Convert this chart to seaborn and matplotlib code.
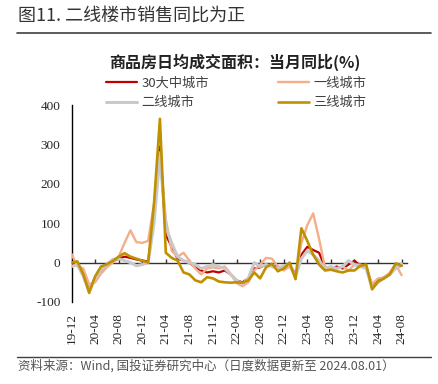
import numpy as np
import pandas as pd
import matplotlib
matplotlib.use("Agg")
import matplotlib.pyplot as plt
import seaborn as sns

months = ["19-12","20-01","20-02","20-03","20-04","20-05","20-06","20-07","20-08","20-09",
          "20-10","20-11","20-12","21-01","21-02","21-03","21-04","21-05","21-06","21-07",
          "21-08","21-09","21-10","21-11","21-12","22-01","22-02","22-03","22-04","22-05",
          "22-06","22-07","22-08","22-09","22-10","22-11","22-12","23-01","23-02","23-03",
          "23-04","23-05","23-06","23-07","23-08","23-09","23-10","23-11","23-12","24-01",
          "24-02","24-03","24-04","24-05","24-06","24-07","24-08"]

city30 = [-5, -5, -30, -68, -40, -20, -8, 3, 10, 15, 12, 8, 5, 3, 110, 295, 70, 40, 10, 5,
          0, -12, -20, -25, -22, -25, -20, -30, -45, -50, -40, -15, -12, -5, -8, -10, -15, -5, -30, 20,
          40, 32, 25, -12, -15, -10, -15, -5, 5, -8, -10, -60, -45, -38, -28, -12, -8]
tier1 = [22, -10, -15, -55, -50, -28, -12, 0, 15, 50, 82, 52, 50, 55, 150, 280, 110, 30, 15, 25,
         5, -15, -30, -15, -12, -15, -10, -28, -52, -60, -50, -20, -5, 12, 10, -10, -20, -10, -35, 50,
         95, 125, 60, -12, -15, -15, -10, -20, -5, -5, -10, -55, -40, -38, -25, -5, -32]
tier2 = [-10, -5, -35, -72, -40, -18, -5, 8, 10, 5, 0, -8, -5, 0, 100, 270, 90, 50, 15, 5,
         0, -5, -15, -10, -5, -10, -15, -30, -45, -55, -40, 0, -10, -5, -10, -15, -8, -5, -35, 10,
         30, 20, 5, -15, -10, -15, -10, 5, -5, -10, -15, -65, -50, -40, -30, -15, -3]
tier3 = [0, 3, -30, -77, -35, -10, -4, 4, 15, 24, 15, 10, 5, 0, 150, 365, 25, 12, 5, -25,
         -30, -45, -50, -37, -40, -48, -50, -51, -50, -51, -45, -25, -40, -12, -3, -22, -15, 0, -42, 87,
         55, 20, -5, -20, -18, -22, -25, -20, -20, -8, -5, -68, -48, -40, -30, -2, -8]

series_names = ["30大中城市", "一线城市", "二线城市", "三线城市"]
colors = ["#C00000", "#F4AE8A", "#C9C9C9", "#BF9000"]
widths = [1.6, 1.7, 2.2, 1.9]
tick_labels = months[::4]

idx = np.arange(len(months))
df = pd.concat([
    pd.DataFrame({"idx": idx, "value": v, "series": n})
    for n, v in zip(series_names, [city30, tier1, tier2, tier3])
], ignore_index=True)

sns.set_style("white")
plt.rcParams["font.family"] = ["Noto Sans CJK SC", "DejaVu Sans"]
plt.rcParams["axes.unicode_minus"] = False

fig = plt.figure(figsize=(4.38, 3.84), dpi=100)
ax = fig.add_axes([71.5/438, 1-302/384, 336/438, (302-105)/384])

draw_order = [1, 2, 0, 3]
for k in draw_order:
    name = series_names[k]
    sns.lineplot(data=df[df["series"] == name], x="idx", y="value", ax=ax,
                 color=colors[k], linewidth=widths[k], label=name, zorder=3 + k)

ax.set_xlim(0, 57)
ax.set_ylim(-100, 400)
ax.set_yticks([-100, 0, 100, 200, 300, 400])
ax.set_xlabel("")
ax.set_ylabel("")

for s in ["top", "right"]:
    ax.spines[s].set_visible(False)
ax.spines["bottom"].set_position(("data", 0))
ax.spines["bottom"].set_color("#333333")
ax.spines["bottom"].set_linewidth(1.0)
ax.spines["left"].set_color("black")
ax.spines["left"].set_linewidth(1.0)

ax.set_xticks(idx[::4])
ax.tick_params(axis="x", direction="in", length=3, width=1, color="#333333",
               labelbottom=False, bottom=True)
ax.tick_params(axis="y", direction="out", length=4, width=1, color="black",
               labelsize=9.5, pad=4)
for t in ax.get_yticklabels():
    t.set_fontfamily(["Liberation Serif"])

sec = ax.secondary_xaxis(0.0)
sec.set_xticks(idx[::4])
sec.set_xticklabels(tick_labels, rotation=90, fontsize=9.5, fontfamily=["Liberation Serif"])
sec.tick_params(axis="x", length=0, pad=8)
sec.spines["bottom"].set_visible(False)

# legend: row-major order (matplotlib fills columns first)
handles, labels = ax.get_legend_handles_labels()
leg_order = ["30大中城市", "二线城市", "一线城市", "三线城市"]
order = [labels.index(n) for n in leg_order]
ax.legend([handles[i] for i in order], [labels[i] for i in order], ncol=2,
          frameon=False, fontsize=9.5, loc="center", bbox_to_anchor=(236/438, 1-93/384),
          bbox_transform=fig.transFigure, columnspacing=5.2, handlelength=2.4,
          handletextpad=0.3, labelspacing=0.5, labelcolor="#404040")

fig.text(18/438, 1-17/384, "图11. 二线楼市销售同比为正", fontsize=13, color="#333333",
         va="center", ha="left")
fig.add_artist(plt.Line2D([17/438, 431/438], [1-33/384, 1-33/384], color="#404040",
                          linewidth=1.2, transform=fig.transFigure))
fig.text(235/438, 1-62/384, "商品房日均成交面积：当月同比(%)", fontsize=11.5, fontweight="bold",
         color="#222222", ha="center", va="center")
fig.add_artist(plt.Line2D([17/438, 431/438], [1-357/384, 1-357/384], color="#404040",
                          linewidth=1.0, transform=fig.transFigure))
fig.text(18/438, 1-366/384, "资料来源：Wind, 国投证券研究中心（日度数据更新至 2024.08.01）",
         fontsize=9, style="italic", color="#555555", ha="left", va="center")

fig.savefig("out.png", dpi=100)
